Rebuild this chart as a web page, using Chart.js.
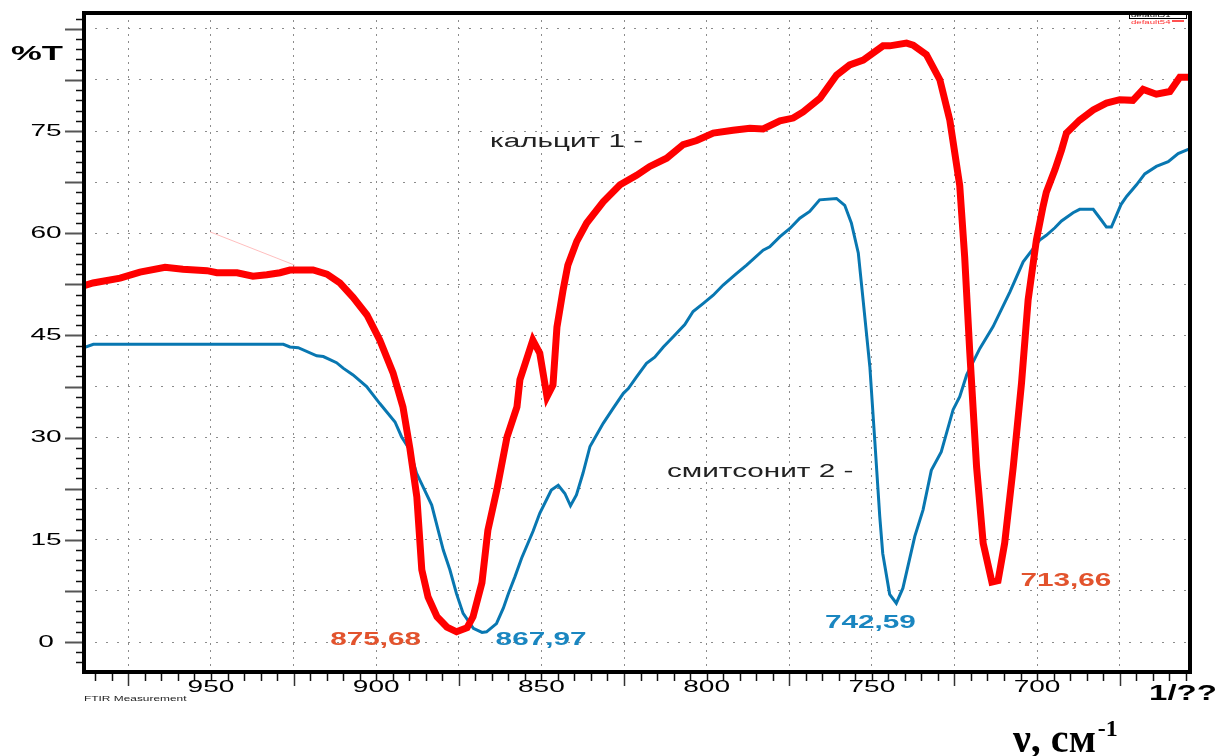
<!DOCTYPE html>
<html>
<head>
<meta charset="utf-8">
<title>FTIR</title>
<script src="https://cdn.jsdelivr.net/npm/chart.js@4/dist/chart.umd.min.js"></script>
<style>
  html, body { margin: 0; padding: 0; background: #fff; }
  #wrap { width: 1221px; height: 756px; }
</style>
</head>
<body>
<div id="wrap"><canvas id="ftir" width="1221" height="756"></canvas></div>
<script>
// кальцит (calcite) spectrum, wavenumber cm-1 / %T
const calciteWavenumbers = [
  988.4, 985.7, 977.5, 971.5, 963.9, 958.5, 951.2, 948.2, 942.1, 937.3, 933.1, 929.1, 926.1, 919.1,
  914.9, 911.0, 907.0, 902.8, 898.9, 894.9, 891.9, 889.8, 887.7, 886.2, 884.3, 881.6, 878.6, 875.68,
  872.5, 870.7, 868.0, 866.2, 863.5, 860.4, 857.4, 856.5, 852.6, 850.5, 848.3, 846.5, 845.3, 843.5,
  842.0, 839.3, 836.3, 831.3, 826.2, 821.2, 817.2, 812.1, 807.1, 803.0, 798.0, 792.0, 786.9, 782.9,
  777.8, 773.8, 770.8, 765.7, 760.7, 756.7, 752.6, 746.6, 744.6, 739.5, 737.5, 733.5, 729.4, 726.4,
  723.4, 721.9, 720.4, 718.3, 716.3, 713.66, 711.8, 709.8, 707.2, 704.7, 702.7, 700.2, 698.2, 697.2,
  694.6, 692.6, 691.1, 687.1, 683.0, 679.0, 675.0, 671.0, 667.9, 663.9, 659.8, 656.8, 653.7
];
const calciteTransmittance = [
  52.3, 52.7, 53.4, 54.3, 55.0, 54.7, 54.5, 54.2, 54.2, 53.7, 53.9, 54.2, 54.6, 54.6,
  54.0, 52.7, 50.6, 48.0, 44.3, 39.5, 34.5, 28.4, 21.3, 10.6, 6.6, 3.7, 2.2, 1.5,
  2.1, 3.7, 8.7, 16.4, 22.3, 30.1, 34.5, 38.5, 44.3, 42.4, 36.0, 37.7, 46.2, 51.5,
  55.3, 58.8, 61.5, 64.6, 67.1, 68.5, 69.8, 71.0, 73.0, 73.6, 74.7, 75.1, 75.4, 75.3,
  76.5, 76.9, 77.8, 79.8, 83.2, 84.7, 85.4, 87.5, 87.5, 87.9, 87.6, 86.2, 82.5, 76.6,
  67.0, 56.5, 42.9, 25.7, 14.5, 8.8, 9.0, 14.5, 25.7, 38.0, 50.2, 59.0, 63.9, 66.0,
  69.3, 72.2, 74.7, 76.6, 78.1, 79.1, 79.6, 79.5, 81.1, 80.4, 80.8, 82.9, 82.9
];

// смитсонит (smithsonite) spectrum
const smithsoniteWavenumbers = [
  988.4, 985.6, 928.1, 926.1, 923.6, 918.0, 916.0, 912.0, 910.0, 907.0, 902.9, 898.9, 894.3, 892.3,
  889.8, 887.8, 883.2, 879.7, 877.7, 875.7, 873.7, 870.6, 867.97, 866.6, 863.6, 861.5, 860.0, 858.0,
  856.0, 852.5, 850.5, 847.0, 844.9, 842.9, 841.2, 839.4, 837.4, 835.3, 831.3, 828.3, 825.2, 823.7,
  821.2, 818.2, 815.7, 813.1, 810.1, 806.6, 804.1, 801.0, 798.0, 795.0, 790.9, 787.9, 782.9, 780.9,
  777.8, 774.8, 771.8, 768.8, 765.8, 760.7, 758.2, 756.2, 754.1, 752.6, 750.6, 749.1, 747.6, 746.7,
  744.6, 742.59, 740.6, 737.0, 734.5, 732.0, 729.0, 725.4, 723.4, 721.3, 717.3, 713.3, 708.2, 704.2,
  699.2, 697.2, 694.6, 692.6, 689.1, 687.1, 683.0, 680.5, 679.0, 677.5, 674.6, 672.9, 669.9, 667.4,
  663.9, 660.3, 657.3, 653.7
];
const smithsoniteTransmittance = [
  43.2, 43.7, 43.7, 43.3, 43.2, 42.0, 41.9, 41.0, 40.2, 39.2, 37.5, 35.0, 32.3, 30.1,
  28.2, 24.8, 20.1, 13.5, 10.6, 7.1, 4.2, 2.0, 1.4, 1.5, 2.7, 5.0, 7.1, 9.6,
  12.3, 16.3, 18.9, 22.3, 23.0, 21.8, 20.0, 21.6, 24.8, 28.7, 32.1, 34.3, 36.5, 37.2,
  38.9, 40.9, 41.8, 43.3, 44.8, 46.6, 48.5, 49.7, 50.9, 52.4, 54.1, 55.3, 57.5, 58.0,
  59.5, 60.7, 62.2, 63.2, 64.9, 65.1, 64.1, 61.5, 57.1, 50.0, 40.4, 29.5, 18.4, 13.0,
  7.0, 5.7, 7.9, 15.5, 19.4, 25.2, 27.9, 34.1, 36.0, 39.2, 43.1, 46.3, 51.4, 55.8,
  59.0, 59.7, 60.8, 61.8, 63.0, 63.5, 63.5, 61.9, 60.9, 60.9, 64.2, 65.4, 67.1, 68.7,
  69.8, 70.5, 71.7, 72.4
];

// stray pointer line near the top-left
const pointerWavenumbers = [950.3, 924.6];
const pointerTransmittance = [60.2, 55.3];

const yTickValues = [0, 15, 30, 45, 60, 75];
const yTickLabels = ["0", "15", "30", "45", "60", "75"];
const xTickValues = [950, 900, 850, 800, 750, 700];
const xTickLabels = ["950", "900", "850", "800", "750", "700"];

const peakLabels = [
  { text: "875,68", wavenumber: 875.68, value: 1.5, dx: -81, dy: 8, color: "#e2532d" },
  { text: "867,97", wavenumber: 867.97, value: 1.4, dx: 59, dy: 8, color: "#1a86c0" },
  { text: "742,59", wavenumber: 742.59, value: 5.7, dx: -26, dy: 20, color: "#1a86c0" },
  { text: "713,66", wavenumber: 713.66, value: 8.8, dx: 74, dy: -1, color: "#e2532d" }
];

const X_MIN = 653.71, X_MAX = 988.43;
const Y_MIN = -4.4, Y_MAX = 92.32;
const STRETCH = 1.65;
const SANS = "'Liberation Sans', Arial, sans-serif";

function toPoints(xs, ys) {
  return xs.map((x, i) => ({ x, y: ys[i] }));
}

function wideText(ctx, text, x, y, font, color, align = "center", sx = STRETCH) {
  ctx.save();
  ctx.font = font;
  ctx.fillStyle = color;
  ctx.textAlign = align;
  ctx.textBaseline = "middle";
  ctx.translate(x, y);
  ctx.scale(sx, 1);
  ctx.fillText(text, 0, 0);
  ctx.restore();
}

function near(value, step) {
  const r = value / step;
  return Math.abs(r - Math.round(r)) < 1e-6;
}

const frame = {
  id: "frame",
  afterDraw(chart) {
    const { ctx, chartArea: a, scales: { x, y } } = chart;

    // axis tick marks
    ctx.save();
    for (let v = 1.5 * Math.ceil(Y_MIN / 1.5); v <= Y_MAX; v += 1.5) {
      const py = Math.round(y.getPixelForValue(v)) + 0.5;
      const major = near(v, 7.5);
      ctx.strokeStyle = major ? "#555" : "#111";
      ctx.lineWidth = major ? 2 : 1.5;
      ctx.beginPath();
      ctx.moveTo(major ? a.left - 19 : a.left - 8, py);
      ctx.lineTo(a.left, py);
      ctx.stroke();
    }
    for (let v = 655; v <= 985; v += 5) {
      const px = Math.round(x.getPixelForValue(v)) + 0.5;
      const major = near(v - 25, 50);
      ctx.strokeStyle = major ? "#333" : "#111";
      ctx.lineWidth = 1.5;
      ctx.beginPath();
      ctx.moveTo(px, a.bottom);
      ctx.lineTo(px, a.bottom + (major ? 14 : 9));
      ctx.stroke();
    }
    ctx.restore();

    // plot frame
    ctx.save();
    ctx.strokeStyle = "#000";
    ctx.lineWidth = 4;
    ctx.strokeRect(a.left, a.top, a.right - a.left, a.bottom - a.top);
    ctx.restore();

    // tick labels
    yTickValues.forEach((v, i) => wideText(ctx, yTickLabels[i], 46, y.getPixelForValue(v), `17px ${SANS}`, "#000"));
    xTickValues.forEach((v, i) => wideText(ctx, xTickLabels[i], x.getPixelForValue(v), 687, `17px ${SANS}`, "#000"));
    wideText(ctx, "%T", 37, 54, `bold 21px ${SANS}`, "#000");
    wideText(ctx, "1/??", 1183, 694, `bold 22px ${SANS}`, "#000", "center", 1.5);
    wideText(ctx, "FTIR Measurement", 84, 699, `7px ${SANS}`, "#222", "left", 1.7);

    // axis title
    ctx.save();
    ctx.fillStyle = "#000";
    ctx.textBaseline = "alphabetic";
    ctx.textAlign = "left";
    ctx.font = "bold 40px 'Liberation Serif', 'Times New Roman', serif";
    ctx.fillText("ν, см", 1013, 752);
    const w = ctx.measureText("ν, см").width;
    ctx.font = "bold 24px 'Liberation Serif', 'Times New Roman', serif";
    ctx.fillText("-1", 1013 + w + 2, 736);
    ctx.restore();

    // series names
    wideText(ctx, "кальцит 1 -", 490, 142, `18px ${SANS}`, "#222", "left");
    wideText(ctx, "смитсонит 2 -", 667, 472, `18px ${SANS}`, "#222", "left");

    // peak positions
    peakLabels.forEach(p => {
      wideText(ctx, p.text, x.getPixelForValue(p.wavenumber) + p.dx, y.getPixelForValue(p.value) + p.dy,
        `bold 18px ${SANS}`, p.color);
    });

    // tiny legend box in the corner
    ctx.save();
    ctx.strokeStyle = "#000";
    ctx.lineWidth = 1;
    ctx.strokeRect(1129.5, 12.5, 57, 6);
    wideText(ctx, "default51", 1131, 15.5, `6px ${SANS}`, "#000", "left", 1.6);
    wideText(ctx, "default54", 1131, 22, `6px ${SANS}`, "#ff3030", "left", 1.6);
    ctx.beginPath();
    ctx.moveTo(1172, 14.5); ctx.lineTo(1184, 14.5);
    ctx.stroke();
    ctx.strokeStyle = "#ff5050";
    ctx.lineWidth = 2;
    ctx.beginPath();
    ctx.moveTo(1172, 21); ctx.lineTo(1184, 21);
    ctx.stroke();
    ctx.restore();
  }
};

new Chart(document.getElementById("ftir"), {
  type: "line",
  data: {
    datasets: [
      {
        label: "default54",
        data: toPoints(calciteWavenumbers, calciteTransmittance),
        borderColor: "#ff0000",
        borderWidth: 7,
        pointRadius: 0,
        tension: 0
      },
      {
        label: "default51",
        data: toPoints(smithsoniteWavenumbers, smithsoniteTransmittance),
        borderColor: "#0877b1",
        borderWidth: 3,
        pointRadius: 0,
        tension: 0
      },
      {
        label: "pointer",
        data: toPoints(pointerWavenumbers, pointerTransmittance),
        borderColor: "rgba(255, 110, 110, 0.45)",
        borderWidth: 1,
        pointRadius: 0
      }
    ]
  },
  options: {
    responsive: false,
    animation: false,
    layout: { padding: { left: 0, top: 13, right: 31, bottom: 0 } },
    plugins: { legend: { display: false }, tooltip: { enabled: false } },
    scales: {
      x: {
        type: "linear",
        reverse: true,
        min: X_MIN,
        max: X_MAX,
        ticks: { display: false, stepSize: 25, includeBounds: false },
        grid: { color: "#8c8c8c", lineWidth: 1, drawTicks: false },
        border: { display: false, dash: [2, 5] },
        afterFit: scale => { scale.height = 84; }
      },
      y: {
        type: "linear",
        min: Y_MIN,
        max: Y_MAX,
        ticks: { display: false, stepSize: 7.5, includeBounds: false },
        grid: {
          color: ctx => near(ctx.tick.value, 7.5) ? "#8c8c8c" : "rgba(0,0,0,0)",
          lineWidth: 1,
          drawTicks: false
        },
        border: { display: false, dash: [2, 9] },
        afterFit: scale => { scale.width = 84; }
      }
    }
  },
  plugins: [frame]
});
</script>
</body>
</html>
